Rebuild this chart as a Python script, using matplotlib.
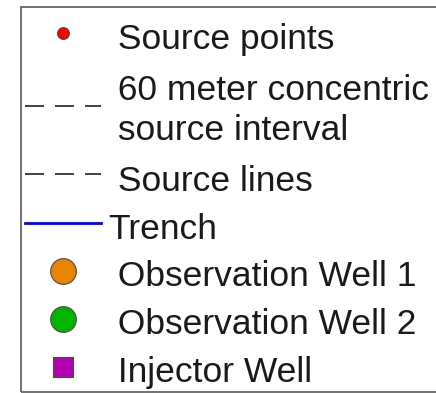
import matplotlib
matplotlib.use("Agg")
import matplotlib.pyplot as plt
from matplotlib.lines import Line2D
from matplotlib.patches import Rectangle
from matplotlib.transforms import Affine2D

plt.rcParams["font.family"] = ["Liberation Sans", "DejaVu Sans"]

# Legend entries
labels = [
    " Source points",
    " 60 meter concentric\n source interval",
    " Source lines",
    "Trench",
    " Observation Well 1",
    " Observation Well 2",
    " Injector Well",
]
kinds = ["marker", "dash", "dash", "line", "marker", "marker", "marker"]
markers = ["o", None, None, None, "o", "o", "s"]
marker_sizes = [8.5, 0, 0, 0, 18.5, 18.5, 14.5]
face_colors = ["#ff0000", None, None, None, "#e88400", "#00b400", "#b400b4"]
line_colors = [None, "#222222", "#222222", "#0000ff", None, None, None]

# Per-entry vertical nudges (pixels, positive = up) for label and symbol
text_nudge = [4.0, 0.0, -2.7, -2.7, -2.7, -2.7, -2.7]
handle_nudge = [7.5, 5.3, 1.5, 0.0, 0.0, 0.0, 0.0]

W, H = 436, 393
fig = plt.figure(figsize=(W / 100, H / 100), dpi=100)
fig.patch.set_facecolor("white")

handles = []
for kind, mk, ms, fc, lc in zip(kinds, markers, marker_sizes, face_colors, line_colors):
    if kind == "marker":
        h = Line2D([], [], linestyle="none", marker=mk, markersize=ms,
                   markerfacecolor=fc, markeredgecolor="#4a4a4a",
                   markeredgewidth=0.8)
    elif kind == "dash":
        h = Line2D([], [], color=lc, linewidth=1.2,
                   linestyle=(0, (11.4, 6.6)))
    else:
        h = Line2D([], [], color=lc, linewidth=2.0)
    handles.append(h)

leg = fig.legend(
    handles, labels,
    loc="upper left",
    bbox_to_anchor=(25 / W, 1 - 26.5 / H),
    borderaxespad=0, borderpad=0,
    frameon=False,
    fontsize=25.5,
    handlelength=2.15,
    handletextpad=0.2,
    labelspacing=0.419,
    numpoints=1,
)
for t, dy in zip(leg.get_texts(), text_nudge):
    t.set_color("#1a1a1a")
    t.set_linespacing(1.263)
    t.set_position((0, dy))
for lh, dy in zip(leg.legend_handles, handle_nudge):
    lh.set_transform(lh.get_transform() + Affine2D().translate(0, dy))

# Legend box outline
fig.add_artist(Rectangle((20.5 / W, 1 - 391.5 / H), 440 / W, 385 / H,
                         transform=fig.transFigure, fill=False,
                         edgecolor="#5a5a5a", linewidth=1.2))

fig.savefig("out.png", dpi=100)
